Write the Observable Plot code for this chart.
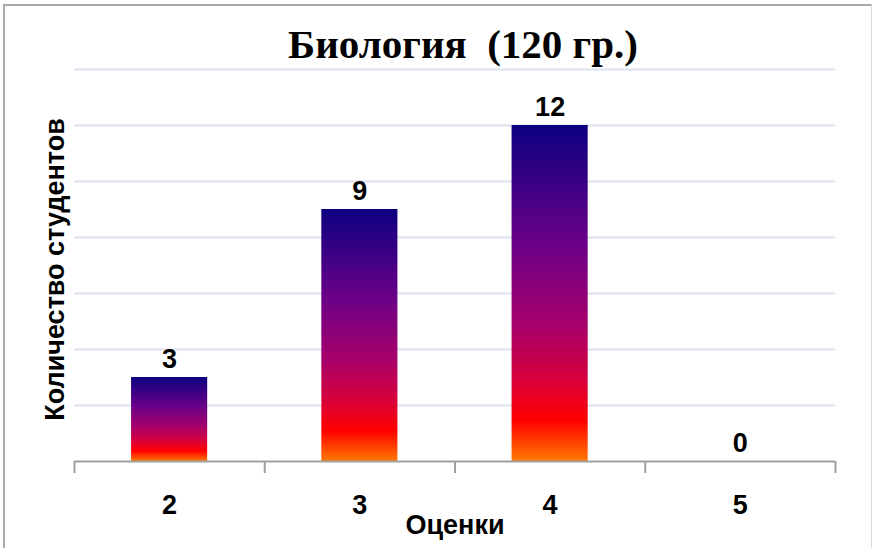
<!DOCTYPE html>
<html>
<head>
<meta charset="utf-8">
<script src="https://cdn.jsdelivr.net/npm/d3@7"></script>
<script src="https://cdn.jsdelivr.net/npm/@observablehq/plot@0.6"></script>
<style>
  html, body { margin: 0; padding: 0; background: #fff; overflow: hidden; }
  #wrap { position: relative; width: 872px; height: 548px; }
  #frame { position: absolute; left: 3px; top: 4px; width: 869px; height: 600px; box-sizing: border-box;
           border-left: 2px solid #a9a9a9; border-top: 2px solid #a9a9a9; border-right: 1px solid #d9d9d9; pointer-events: none; }
  svg text { white-space: pre; }
</style>
</head>
<body>
<div id="wrap"><div id="chart"></div><div id="frame"></div></div>
<script>
const titleText = "Биология  (120 гр.)";
const xLabel = "Оценки";
const yLabel = "Количество студентов";
const grades = [2, 3, 4, 5];
const counts = [3, 9, 12, 0];
const yTicks = [2, 4, 6, 8, 10, 12, 14];
const xTickBounds = [1.5, 2.5, 3.5, 4.5, 5.5];

const data = grades.map((g, i) => ({grade: g, count: counts[i]}));
const sans = "'Liberation Sans', Arial, sans-serif";

const plot = Plot.plot({
  width: 872,
  height: 548,
  marginLeft: 74,
  marginRight: 37,
  marginTop: 69,
  marginBottom: 87,
  style: {fontFamily: sans, background: "transparent", overflow: "visible"},
  x: {domain: [1.5, 5.5], axis: null},
  y: {domain: [0, 14], axis: null},
  marks: [
    Plot.gridY(yTicks, {stroke: "#dbe3ef", strokeWidth: 2, strokeOpacity: 1}),
    Plot.rectY(data, {x1: d => d.grade - 0.2, x2: d => d.grade + 0.2, y1: 0, y2: "count", fill: "url(#barGrad)"}),
    Plot.ruleY([0], {stroke: "#a0a0a0", strokeWidth: 2}),
    Plot.axisX(xTickBounds, {tickSize: 12, tickFormat: () => "", label: null, stroke: "#a0a0a0", strokeWidth: 2}),
    Plot.axisX(grades, {tickSize: 0, tickPadding: 33, tickFormat: d => String(d), label: null, fontSize: 27, fontWeight: "bold", fill: "#000"}),
    Plot.text(data, {x: "grade", y: "count", text: d => String(d.count), lineAnchor: "bottom", dy: -10, fontSize: 27, fontWeight: "bold", fill: "#000"}),
    Plot.text([xLabel], {frameAnchor: "bottom", lineAnchor: "bottom", dy: 72, fontSize: 27, fontWeight: "bold", fill: "#000"}),
    Plot.text([yLabel], {frameAnchor: "left", textAnchor: "middle", rotate: -90, lineAnchor: "bottom", dx: -11, dy: 4, fontSize: 27, fontWeight: "bold", fill: "#000"}),
    Plot.text([titleText], {frameAnchor: "top", lineAnchor: "bottom", dy: -12, dx: 8, fontSize: 41, fontWeight: "bold", fontFamily: "'Liberation Serif', 'Times New Roman', serif", fill: "#000"})
  ]
});

const defs = d3.select(plot).insert("defs", ":first-child");
const grad = defs.append("linearGradient").attr("id", "barGrad").attr("x1", 0).attr("y1", 0).attr("x2", 0).attr("y2", 1);
[["0%", "#0c0080"], ["35%", "#6a0088"], ["60%", "#a8006a"], ["76%", "#d8003a"], ["88%", "#ff0000"], ["100%", "#ff7a00"]]
  .forEach(([o, c]) => grad.append("stop").attr("offset", o).attr("stop-color", c));

document.getElementById("chart").appendChild(plot);
</script>
</body>
</html>
